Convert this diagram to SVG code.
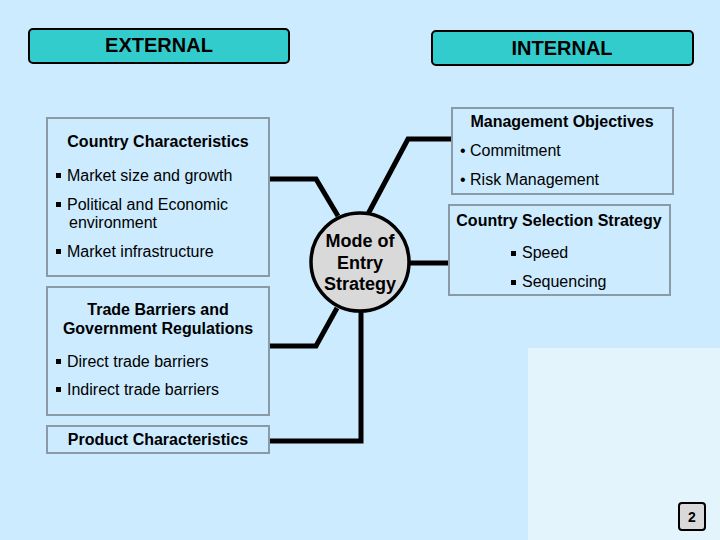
<svg xmlns="http://www.w3.org/2000/svg" width="720" height="540" viewBox="0 0 720 540">
<style>
.hdr{fill:#33CCCC;stroke:#000;stroke-width:2}
.hdrt{font-family:"Liberation Sans",Arial,sans-serif;font-size:20px;font-weight:bold;fill:#000;text-anchor:middle}
.box{fill:#CCEBFF;stroke:#8A9AA6;stroke-width:2}
.ttl{font-family:"Liberation Sans",Arial,sans-serif;font-size:16px;font-weight:bold;fill:#000;text-anchor:middle}
.itm{font-family:"Liberation Sans",Arial,sans-serif;font-size:16px;fill:#000}
.conn{fill:none;stroke:#000;stroke-width:5;stroke-linejoin:miter}
</style>
<defs>
<rect id="sq" width="5" height="5" fill="#000"/>
</defs>
<rect width="720" height="540" fill="#CCEBFF"/>
<rect x="528" y="348" width="192" height="192" fill="#E3F4FD"/>

<g id="connectors">
<polyline class="conn" points="269,179 316,179 338,216"/>
<polyline class="conn" points="368,214 408,139 453,139"/>
<polyline class="conn" points="408,263 449,263"/>
<polyline class="conn" points="269,346 316,346 337,308"/>
<polyline class="conn" points="269,441 361,441 361,311"/>
</g>

<g id="external">
<rect class="hdr" x="29" y="29" width="260" height="34" rx="4"/>
<text class="hdrt" x="159" y="52">EXTERNAL</text>
</g>
<g id="internal">
<rect class="hdr" x="432" y="31" width="261" height="34" rx="4"/>
<text class="hdrt" x="562" y="55">INTERNAL</text>
</g>

<g id="country-characteristics">
<rect class="box" x="47" y="118" width="222" height="158"/>
<text class="ttl" x="158" y="147">Country Characteristics</text>
<use href="#sq" x="56" y="173"/>
<text class="itm" x="67" y="181">Market size and growth</text>
<use href="#sq" x="56" y="202"/>
<text class="itm" x="67" y="210">Political and Economic</text>
<text class="itm" x="69" y="228">environment</text>
<use href="#sq" x="56" y="249"/>
<text class="itm" x="67" y="257">Market infrastructure</text>
</g>

<g id="trade-barriers">
<rect class="box" x="47" y="287" width="222" height="128"/>
<text class="ttl" x="158" y="315">Trade Barriers and</text>
<text class="ttl" x="158" y="334">Government Regulations</text>
<use href="#sq" x="56" y="359"/>
<text class="itm" x="67" y="367">Direct trade barriers</text>
<use href="#sq" x="56" y="387"/>
<text class="itm" x="67" y="395">Indirect trade barriers</text>
</g>

<g id="product-characteristics">
<rect class="box" x="47" y="426" width="222" height="27"/>
<text class="ttl" x="158" y="445">Product Characteristics</text>
</g>

<g id="management-objectives">
<rect class="box" x="452" y="108" width="221" height="86"/>
<text class="ttl" x="562" y="127">Management Objectives</text>
<text class="itm" x="460" y="156">• Commitment</text>
<text class="itm" x="460" y="185">• Risk Management</text>
</g>

<g id="country-selection">
<rect class="box" x="449" y="205" width="221" height="90"/>
<text class="ttl" x="559" y="226">Country Selection Strategy</text>
<use href="#sq" x="511" y="251"/>
<text class="itm" x="522" y="258">Speed</text>
<use href="#sq" x="511" y="280"/>
<text class="itm" x="522" y="287">Sequencing</text>
</g>

<g id="mode-of-entry">
<circle cx="360" cy="262" r="49" fill="#D9D9D9" stroke="#000" stroke-width="3.5"/>
<text class="ttl" x="360" y="247" style="font-size:18px">Mode of</text>
<text class="ttl" x="360" y="269" style="font-size:18px">Entry</text>
<text class="ttl" x="360" y="290" style="font-size:18px">Strategy</text>
</g>

<g id="page-number">
<rect x="679" y="503" width="26" height="27" rx="3" fill="#D9D9D9" stroke="#000" stroke-width="2"/>
<text class="ttl" x="692" y="522" style="font-size:14px">2</text>
</g>
</svg>
